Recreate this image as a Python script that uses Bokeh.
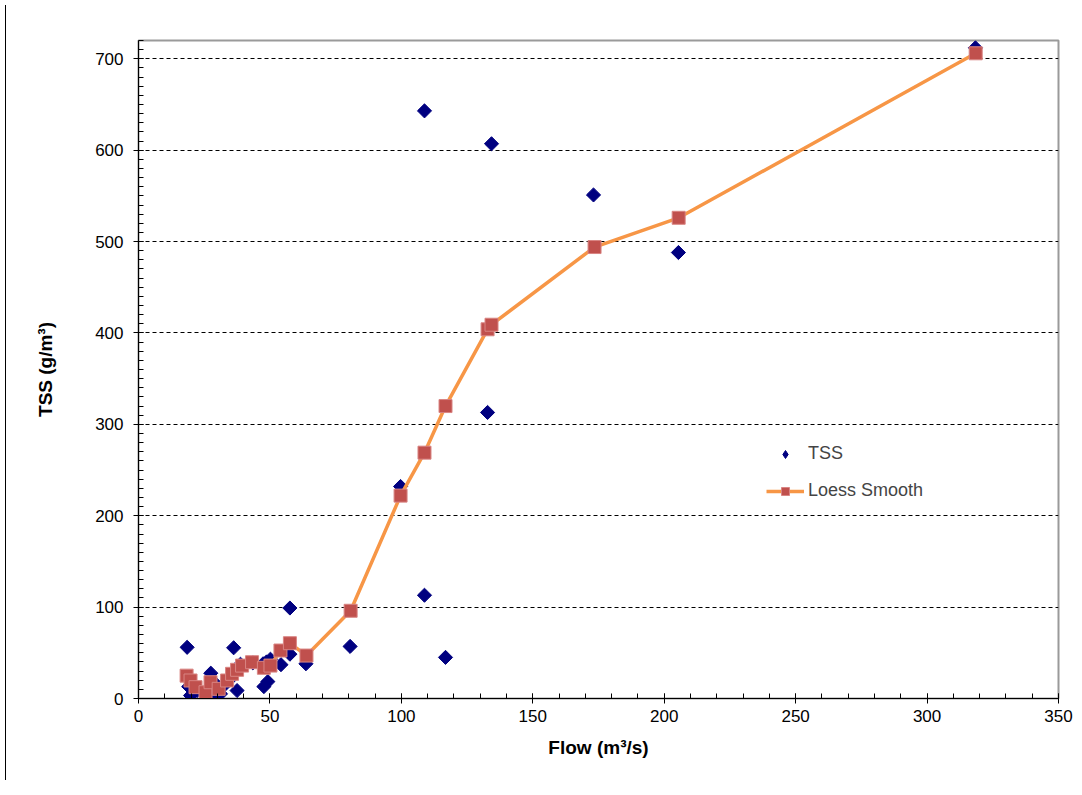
import math
from bokeh.plotting import figure
from bokeh.models import Range1d, SingleIntervalTicker, Legend, LegendItem, Div
from bokeh.layouts import row
from bokeh.embed import file_html
from bokeh.resources import INLINE

# TSS observations (flow m3/s, TSS g/m3)
tss_flow = [318.4, 108.8, 134.3, 173.1, 205.4, 132.8, 99.7, 108.8, 116.8, 80.5,
            57.6, 63.7, 57.6, 54.2, 18.5, 36.2, 38.8, 43.5, 47.4, 48.7,
            50.2, 47.7, 49.2, 27.5, 35.0, 34.3, 33.1, 19.1, 19.8, 22.3,
            25.5, 27.4, 28.0, 29.3, 31.2, 37.5, 26.7]
tss_value = [712, 643, 607, 551, 488, 313, 232, 113, 45, 57,
             99, 38, 48.5, 37, 56, 55.5, 37.5, 39, 38, 40,
             43, 13, 18.5, 27.7, 23.3, 19.7, 16, 13, 3.3, 8.7,
             6.9, 10.6, 1.4, 16, 5.1, 8.7, 3.3]

# Loess smooth (sorted by flow)
loess_flow = [18.3, 19.8, 21.7, 25.5, 27.4, 30.5, 33.7, 35.6, 37.5, 39.4,
              43.2, 47.7, 50.2, 54.0, 57.6, 63.9, 80.7, 99.7, 108.8, 116.8,
              132.8, 134.3, 173.5, 205.5, 318.5]
loess_value = [25, 19.7, 12.4, 6.9, 17.8, 10.6, 19.7, 27, 31.4, 36,
               39.7, 33.6, 36, 52.5, 60.5, 47, 96, 222, 269, 320,
               404, 409, 494, 526, 706]

x_ticks_interval = 50
y_ticks_interval = 100

FONT = "'Liberation Sans', Arial, sans-serif"
NARROW = "'Liberation Sans Narrow', 'Liberation Sans', Arial, sans-serif"

p = figure(width=1065, height=787, output_backend="svg", toolbar_location=None,
           x_range=Range1d(0, 350), y_range=Range1d(0, 720),
           min_border_left=127, min_border_right=18, min_border_top=40, min_border_bottom=89)

p.background_fill_color = "white"
p.border_fill_color = "white"
p.outline_line_color = "#9a9a9a"
p.outline_line_width = 2

p.xaxis.ticker = SingleIntervalTicker(interval=x_ticks_interval, num_minor_ticks=5)
p.yaxis.ticker = SingleIntervalTicker(interval=y_ticks_interval, num_minor_ticks=10)

for ax in (p.xaxis[0], p.yaxis[0]):
    ax.axis_line_color = "black"
    ax.axis_line_width = 1
    ax.major_tick_line_color = "black"
    ax.minor_tick_line_color = "black"
    ax.major_tick_in = 5
    ax.major_tick_out = 5
    ax.minor_tick_in = 5
    ax.minor_tick_out = 0
    ax.major_label_text_font = FONT
    ax.major_label_text_font_size = "17px"
    ax.major_label_text_color = "black"
    ax.axis_label_text_font = NARROW
    ax.axis_label_text_font_style = "bold"
    ax.axis_label_text_font_size = "19px"
    ax.axis_label_text_color = "black"

p.xaxis.major_label_standoff = 6
p.yaxis.major_label_standoff = 10
p.xaxis.axis_label = "Flow (m³/s)"
p.yaxis.axis_label = "TSS (g/m³)"
p.xaxis.axis_label_standoff = 12
p.yaxis.axis_label_standoff = 36

p.xgrid.grid_line_color = None
p.ygrid.grid_line_color = "black"
p.ygrid.grid_line_dash = "4 3"
p.ygrid.grid_line_width = 1

r_tss = p.scatter(tss_flow, tss_value, marker="square", size=10, angle=math.pi / 4,
                  fill_color="#000080", line_color="#000080")
r_line = p.line(loess_flow, loess_value, line_color="#F79646", line_width=3.5)
r_sq = p.scatter(loess_flow, loess_value, marker="square", size=13,
                 fill_color="#C0504D", line_color="#D98583", line_width=1)

# legend-only glyph (diamond shape for the TSS entry), hidden in the plot
r_tss_key = p.scatter(tss_flow[:1], tss_value[:1], marker="diamond", size=14,
                      fill_color="#000080", line_color="#000080")
r_tss_key.visible = False

legend = Legend(items=[LegendItem(label="TSS", renderers=[r_tss_key]),
                       LegendItem(label="Loess Smooth", renderers=[r_line, r_sq])],
                location=(628, 197), orientation="vertical",
                background_fill_alpha=0, border_line_color=None,
                label_text_font=FONT, label_text_font_size="18px",
                glyph_width=38, glyph_height=20, label_height=20,
                spacing=16, padding=4, label_standoff=4)
p.add_layout(legend, "center")

edge = Div(width=1, height=775, styles={"background-color": "black"})
layout = row(edge, p, spacing=0)

open("out.html", "w").write(file_html(layout, INLINE))
